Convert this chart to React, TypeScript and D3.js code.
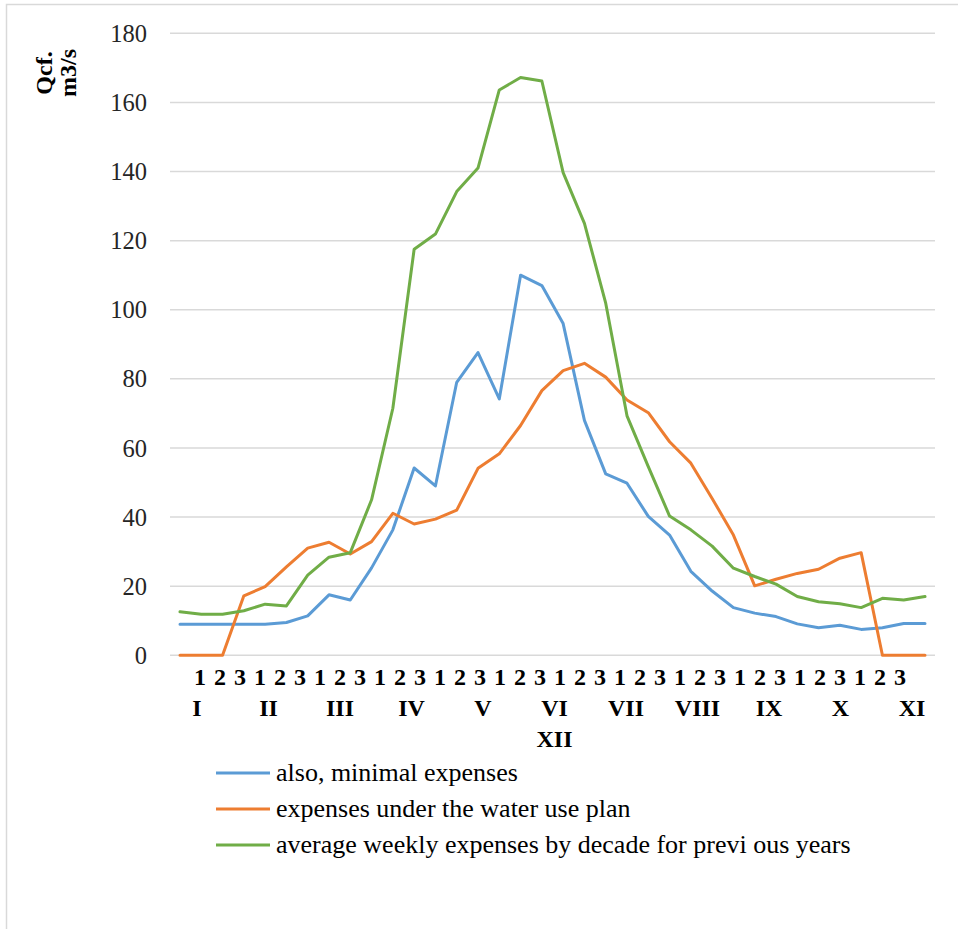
import React from "react";
import * as d3 from "d3";

// Ten-day periods (decades) of each month, 36 in total
const decadeLabels = [
  "1", "2", "3", "1", "2", "3", "1", "2", "3", "1", "2", "3",
  "1", "2", "3", "1", "2", "3", "1", "2", "3", "1", "2", "3",
  "1", "2", "3", "1", "2", "3", "1", "2", "3", "1", "2", "3",
];
const monthLabels = ["I", "II", "III", "IV", "V", "VI", "VII", "VIII", "IX", "X", "XI", "XII"];

const yTicks = [0, 20, 40, 60, 80, 100, 120, 140, 160, 180];

// Discharges, m3/s
const minimalExpenses = [
  9, 9, 9, 9, 9, 9.5, 11.4, 17.5, 16, 25.3, 36.3, 54.2,
  49, 79, 87.6, 74.2, 110, 107, 96, 68, 52.5, 49.8, 40.2, 34.8,
  24.3, 18.6, 13.8, 12.2, 11.2, 9.1, 8, 8.7, 7.5, 8, 9.2, 9.2,
];
const planExpenses = [
  0, 0, 0, 17.2, 19.9, 25.6, 31, 32.7, 29.3, 32.9, 41.1, 38,
  39.4, 42, 54.1, 58.3, 66.5, 76.6, 82.4, 84.5, 80.5, 73.9, 70.2, 61.8,
  55.6, 45.4, 34.8, 20.1, 22, 23.7, 24.9, 28.1, 29.7, 0, 0, 0,
];
const averageExpenses = [
  12.6, 11.9, 11.9, 12.9, 14.8, 14.3, 23.2, 28.4, 29.7, 45, 71.5, 117.5,
  121.9, 134.2, 141, 163.6, 167.2, 166.2, 139.7, 125, 101.9, 69.3, 54.6, 40.3,
  36.3, 31.6, 25.2, 22.8, 20.6, 17, 15.5, 14.9, 13.8, 16.5, 16, 17,
];

const seriesNames = [
  "also, minimal expenses",
  "expenses under the water use plan",
  "average weekly expenses by decade for previ ous years",
];
const seriesValues = [minimalExpenses, planExpenses, averageExpenses];
const seriesColors = ["#5b9bd5", "#ed7d31", "#70ad47"];

const W = 958;
const H = 929;
const FONT = "'Liberation Serif', 'Times New Roman', serif";

export default function App() {
  const idx = d3.range(decadeLabels.length);
  const x = d3.scalePoint<number>().domain(idx).range([180, 925]);
  const y = d3.scaleLinear().domain([0, 180]).range([655.3, 33.3]);

  const labelX = d3.scalePoint<number>().domain(idx).range([200, 900]);
  // Months I..XI on one line; XII wraps onto the next line, centred under it
  const firstLine = monthLabels.slice(0, monthLabels.length - 1);
  const monthX = d3.scalePoint<string>().domain(firstLine).range([197, 912]);
  const lineCenter = (197 + 912) / 2;

  const line = d3
    .line<number>()
    .x((_, i) => x(i) as number)
    .y((v) => y(v));

  const legendY = d3.scalePoint<number>().domain([0, 1, 2]).range([773, 845]);

  return (
    <div style={{ position: "absolute", left: 0, top: 0, width: W, height: H, background: "#fff" }}>
      <svg width={W} height={H} style={{ display: "block" }}>
        <rect x={0} y={0} width={W} height={H} fill="#fff" />
        {/* chart area frame */}
        <rect x={6.5} y={4.5} width={W + 20} height={H + 20} fill="none" stroke="#d9d9d9" strokeWidth={1.5} />

        {/* gridlines */}
        {yTicks.map((t) => (
          <line key={t} x1={170} x2={935} y1={y(t)} y2={y(t)} stroke="#d9d9d9" strokeWidth={1.5} />
        ))}

        {/* y tick labels */}
        {yTicks.map((t) => (
          <text
            key={t}
            x={147}
            y={y(t)}
            dy="0.35em"
            textAnchor="end"
            fontFamily={FONT}
            fontSize={24.5}
            fill="#262626"
          >
            {t}
          </text>
        ))}

        {/* y axis title */}
        <g transform="translate(52,73) rotate(-90)">
          <text textAnchor="middle" fontFamily={FONT} fontSize={24} fontWeight="bold" fill="#000">
            Qcf.
          </text>
        </g>
        <g transform="translate(76,73) rotate(-90)">
          <text textAnchor="middle" fontFamily={FONT} fontSize={24} fontWeight="bold" fill="#000">
            m3/s
          </text>
        </g>

        {/* series */}
        {seriesValues.map((vals, s) => (
          <path
            key={s}
            d={line(vals) ?? ""}
            fill="none"
            stroke={seriesColors[s]}
            strokeWidth={3}
            strokeLinejoin="round"
            strokeLinecap="round"
          />
        ))}

        {/* decade labels */}
        {decadeLabels.map((d, i) => (
          <text
            key={i}
            x={labelX(i)}
            y={685}
            textAnchor="middle"
            fontFamily={FONT}
            fontSize={24}
            fontWeight="bold"
            fill="#000"
          >
            {d}
          </text>
        ))}

        {/* month labels */}
        {firstLine.map((m) => (
          <text
            key={m}
            x={monthX(m)}
            y={716}
            textAnchor="middle"
            fontFamily={FONT}
            fontSize={24}
            fontWeight="bold"
            fill="#000"
          >
            {m}
          </text>
        ))}
        <text
          x={lineCenter}
          y={747}
          textAnchor="middle"
          fontFamily={FONT}
          fontSize={24}
          fontWeight="bold"
          fill="#000"
        >
          {monthLabels[monthLabels.length - 1]}
        </text>

        {/* legend */}
        {seriesNames.map((name, s) => {
          const ly = legendY(s) as number;
          return (
            <g key={name}>
              <line x1={216} x2={270} y1={ly} y2={ly} stroke={seriesColors[s]} strokeWidth={3} />
              <text x={276} y={ly} dy="0.32em" fontFamily={FONT} fontSize={26} fill="#000">
                {name}
              </text>
            </g>
          );
        })}
      </svg>
    </div>
  );
}
